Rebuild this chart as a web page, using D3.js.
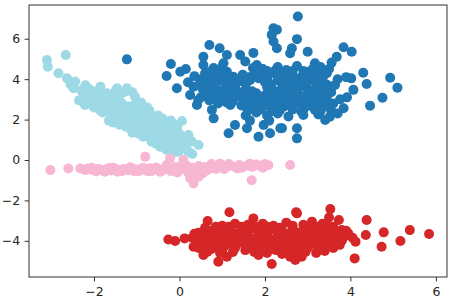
<!DOCTYPE html>
<html>
<head>
<meta charset="utf-8">
<script src="https://cdn.jsdelivr.net/npm/d3@7/dist/d3.min.js"></script>
<style>
  body { margin: 0; background: #fff; }
  text { font-family: "DejaVu Sans", sans-serif; }
</style>
</head>
<body>
<svg id="chart"></svg>
<script>
// Point clouds, [x, y] in data units
const blue = [
  [-1.23,4.98],[2.77,7.10],[2.20,6.52],[2.28,6.45],[2.16,6.19],[2.20,5.86],[2.28,5.53],[2.75,5.98],
  [0.70,5.69],[0.94,5.53],[1.73,5.30],[2.59,5.28],[2.63,5.53],[3.00,5.36],[3.84,5.58],[4.03,5.36],
  [3.68,5.11],[3.56,4.82],[3.17,4.79],[-0.20,4.75],[-0.30,4.16],[0.02,4.37],[-0.06,3.55],[0.56,5.11],
  [0.56,4.70],[0.60,4.29],[1.11,5.20],[1.42,5.20],[1.03,4.79],[1.11,4.37],[1.26,4.12],[1.54,4.87],
  [1.81,4.70],[0.33,3.63],[0.25,3.22],[0.44,2.97],[0.41,2.72],[0.76,2.48],[0.80,2.06],[1.19,2.72],
  [1.30,1.73],[1.15,1.32],[1.58,1.57],[1.85,1.15],[2.12,1.32],[1.97,1.73],[2.40,1.57],[4.30,4.32],
  [4.93,4.07],[5.10,3.58],[4.75,3.08],[4.46,2.69],[4.38,3.76],[4.02,4.04],[4.07,3.47],[3.92,3.10],
  [3.84,2.56],[3.64,3.71],[3.37,3.17],[3.33,3.91],[3.76,3.00],[3.52,2.14],[3.41,1.98],[3.17,2.48],
  [2.92,2.56],[2.90,2.23],[2.75,1.57],[2.75,1.07],[2.36,1.57],[3.02,3.47],[3.02,4.37],[3.13,4.54],
  [0.15,4.50],[0.80,4.55],[1.00,4.60],[1.72,4.55],[1.95,4.50],[2.30,4.60],[2.50,4.45],[2.75,4.65],
  [2.90,4.40],[3.30,4.60],[3.50,4.50],
  [0.35,4.15],[0.50,4.00],[0.90,4.20],[1.48,4.22],[1.75,4.25],[1.95,4.15],[2.15,4.30],[2.40,4.20],
  [2.60,4.25],[2.85,4.10],[3.20,4.20],[3.45,4.30],[3.90,4.10],
  [0.20,3.85],[0.45,3.70],[0.70,3.90],[1.00,3.95],[1.20,3.80],[1.40,3.90],[1.65,3.95],[2.00,3.85],
  [2.30,3.95],[2.55,3.85],[2.75,3.90],[3.05,3.95],[3.30,3.85],
  [0.55,3.50],[0.80,3.60],[1.05,3.50],[1.30,3.60],[1.55,3.45],[2.05,3.60],[2.20,3.45],[2.45,3.60],
  [2.65,3.50],[2.85,3.65],[3.20,3.60],[3.45,3.55],
  [0.60,3.20],[0.85,3.25],[1.10,3.30],[1.35,3.20],[1.60,3.25],[1.80,3.30],[2.00,3.20],[2.30,3.25],
  [2.55,3.30],[2.80,3.20],[3.10,3.25],[3.55,3.35],
  [0.70,2.95],[1.00,3.00],[1.25,2.90],[1.55,3.00],[1.75,2.85],[2.05,2.95],[2.25,2.90],[2.50,3.05],
  [2.70,2.85],[3.00,3.00],[3.25,2.95],[3.60,2.80],
  [1.45,2.70],[1.70,2.55],[2.00,2.70],[2.20,2.55],[2.45,2.65],[2.65,2.50],[3.05,2.70],[3.35,2.60],
  [3.55,2.45],[3.70,2.30],
  [1.55,2.20],[1.80,2.35],[2.05,2.20],[2.30,2.30],[2.55,2.15],[2.10,1.95],[1.65,1.95],[3.25,2.25],
  [0.70,4.35],[1.90,4.35],[2.05,4.40],[2.25,4.45],[2.65,4.40],[3.05,4.20],[3.35,4.45],
  [0.75,4.05],[1.10,4.05],[1.62,4.10],[1.85,4.05],[2.05,4.00],[2.30,4.08],[2.50,4.02],[2.70,4.05],
  [3.05,4.10],[3.35,4.05],[3.70,4.00],
  [0.60,3.75],[0.85,3.75],[1.10,3.70],[1.30,3.75],[1.55,3.75],[2.15,3.75],[2.40,3.75],[2.65,3.70],
  [2.95,3.75],[3.20,3.78],[3.45,3.72],
  [0.70,3.40],[0.95,3.40],[1.20,3.45],[1.45,3.35],[1.70,3.40],[2.10,3.35],[2.35,3.40],[2.55,3.45],
  [2.75,3.38],[3.00,3.35],[3.30,3.40],
  [0.50,3.10],[0.75,3.10],[0.95,3.15],[1.20,3.10],[1.45,3.10],[1.70,3.12],[1.90,3.05],[2.15,3.10],
  [2.40,3.15],[2.65,3.05],[2.95,3.12],[3.20,3.10],[3.45,3.00],
  [0.90,2.80],[1.10,2.85],[1.60,2.80],[1.85,2.75],[2.10,2.80],[2.35,2.78],[2.55,2.82],[2.85,2.75],
  [3.15,2.82],[3.45,2.80],
  [1.60,2.45],[1.90,2.50],[2.15,2.40],[2.35,2.45],[2.85,2.40],[3.30,2.40]
];

const cyan = [
  [-3.10,4.95],[-3.08,4.62],[-2.66,5.20],[-2.83,4.29],[-2.63,4.04],[-2.44,3.88],[-2.48,3.55],
  [-2.21,2.72],[-1.85,3.63],[-1.46,3.55],[-1.23,3.55],[-1.04,3.13],[-2.55,3.75],[-2.20,3.70],
  [-2.30,3.45],[-2.25,3.15],[-2.35,2.95],
  [-2.10,3.50],[-2.05,3.20],[-2.15,2.85],[-2.00,2.60],
  [-1.90,3.45],[-1.85,3.15],[-1.95,2.90],[-1.90,2.55],[-1.80,2.35],
  [-1.70,3.30],[-1.75,3.00],[-1.65,2.75],[-1.70,2.45],[-1.60,2.20],[-1.65,1.95],
  [-1.50,3.40],[-1.45,3.10],[-1.55,2.85],[-1.50,2.60],[-1.45,2.35],[-1.50,2.05],[-1.40,1.75],
  [-1.30,3.35],[-1.35,2.80],[-1.30,2.50],[-1.25,2.25],[-1.30,1.95],[-1.25,1.65],
  [-1.10,3.35],[-1.05,2.75],[-1.15,2.50],[-1.05,2.20],[-1.10,1.90],[-1.00,1.60],[-1.10,1.35],
  [-0.90,2.85],[-0.85,2.55],[-0.95,2.30],[-0.90,2.00],[-0.80,1.75],[-0.90,1.45],[-0.85,1.15],
  [-0.70,2.45],[-0.65,2.20],[-0.75,1.95],[-0.70,1.65],[-0.60,1.40],[-0.70,1.10],[-0.65,0.90],
  [-0.50,2.20],[-0.45,1.95],[-0.55,1.70],[-0.50,1.45],[-0.40,1.20],[-0.50,0.95],[-0.45,0.65],
  [-0.30,1.90],[-0.25,1.60],[-0.35,1.35],[-0.30,1.05],[-0.20,0.80],[-0.30,0.50],
  [-0.10,1.75],[-0.05,1.45],[-0.15,1.20],[-0.10,0.90],[0.00,0.65],[-0.10,0.45],
  [0.06,1.93],[0.21,1.24],[0.29,0.91],[0.09,0.83],[0.21,0.41],[-0.02,0.41],[0.10,1.10],[0.45,0.74],
  [0.30,0.30],
  [-2.00,3.35],[-1.80,2.70],[-1.60,3.20],[-1.40,2.55],[-1.20,2.35],[-1.00,2.45],[-0.80,2.15],
  [-0.60,1.85],[-0.40,1.55],[-0.20,1.30],[-0.60,1.00],[-0.80,1.30],[-1.20,1.80],[-1.00,2.00],
  [-0.40,0.90],[-0.20,0.60],[0.00,1.30],[-0.35,1.80],[-0.75,2.60],[-1.55,1.85],
  [-2.20,3.30],[-2.10,3.00],[-2.20,3.05],[-1.95,3.05],[-2.05,2.75],[-1.85,3.30],[-1.75,2.55],
  [-1.85,2.45],[-1.60,3.05],[-1.65,2.60],[-1.55,2.35],[-1.60,2.90],[-1.40,2.95],[-1.40,2.20],
  [-1.35,1.90],[-1.35,2.40],[-1.20,2.65],[-1.20,2.10],[-1.15,1.55],[-1.00,2.80],[-1.00,2.25],
  [-1.00,1.80],[-0.95,1.30],[-0.80,2.40],[-0.80,1.95],[-0.75,1.50],[-0.75,1.25],[-0.60,2.05],
  [-0.60,1.60],[-0.55,1.20],[-0.55,0.80],[-0.40,2.05],[-0.40,1.35],[-0.35,1.05],[-0.35,0.70],
  [-0.20,1.95],[-0.20,1.50],[-0.20,1.05],[-0.05,1.60],[-0.05,1.05],[0.05,0.55],[0.15,0.95],
  [0.15,0.60],[-0.15,0.35]
];

const pink = [
  [-3.02,-0.50],[-2.60,-0.42],[-2.32,-0.42],[2.59,-0.25],[1.69,-1.00],
  [-2.20,-0.50],[-2.10,-0.45],[-2.00,-0.52],[-1.90,-0.44],[-1.80,-0.50],[-1.70,-0.46],[-1.60,-0.52],
  [-1.50,-0.43],[-1.40,-0.49],[-1.30,-0.45],[-1.20,-0.51],[-1.10,-0.42],[-1.00,-0.48],[-0.90,-0.44],
  [-0.80,-0.50],[-0.70,-0.41],[-0.60,-0.47],[-0.50,-0.43],
  [-2.15,-0.42],[-1.95,-0.56],[-1.65,-0.40],[-1.35,-0.56],[-1.05,-0.55],[-0.75,-0.55],[-0.55,-0.37],
  [-0.85,-0.38],[-1.55,-0.38],
  [-0.40,-0.50],[-0.30,-0.40],[-0.20,-0.55],[-0.10,-0.35],[0.00,-0.50],[0.10,-0.42],[0.20,-0.60],
  [0.30,-0.38],[0.40,-0.55],[0.50,-0.45],[0.60,-0.35],[0.35,-0.75],[0.45,-0.83],[0.33,-1.16],
  [0.25,-0.90],[-0.22,0.08],[0.09,0.00],[-0.80,0.16],[-0.30,-0.25],[0.15,-0.25],[0.55,-0.65],
  [-0.05,-0.62],
  [0.70,-0.42],[0.80,-0.30],[0.90,-0.38],[1.00,-0.28],[1.10,-0.36],[1.20,-0.27],[1.30,-0.35],
  [1.40,-0.25],[1.50,-0.33],[1.60,-0.26],[1.70,-0.34],[1.80,-0.22],[1.90,-0.30],[2.00,-0.20],
  [2.08,-0.26],[0.75,-0.20],[1.05,-0.44],[1.35,-0.42],[1.65,-0.18],[0.95,-0.18],
  [-2.05,-0.38],[-1.75,-0.58],[-1.45,-0.58],[-1.15,-0.36],[-0.95,-0.56],[-0.65,-0.55],[-0.45,-0.58],
  [-0.25,-0.45],[0.05,-0.30],[0.25,-0.50],[0.45,-0.30],[0.65,-0.50],[0.85,-0.45],[1.15,-0.20],
  [1.45,-0.38],[1.75,-0.28],[1.95,-0.38],[0.40,-0.65],[0.30,-0.60]
];

const red = [
  [-0.26,-3.93],[-0.10,-4.01],[0.12,-3.88],[0.43,-3.63],[0.66,-3.02],[1.17,-2.59],[3.53,-2.43],
  [3.73,-2.97],[4.38,-2.97],[4.36,-3.71],[4.12,-4.04],[4.10,-4.87],[4.78,-3.58],[4.73,-4.29],
  [5.17,-4.01],[5.39,-3.47],[5.84,-3.66],[2.73,-2.59],[1.73,-2.89],[0.33,-4.29],[3.80,-3.47],
  [3.95,-3.63],[3.45,-4.29],[1.54,-4.46],[2.75,-2.64],
  [1.00,-3.25],[1.30,-3.15],[1.60,-3.20],[1.95,-3.15],[2.20,-3.25],[2.50,-3.10],[2.90,-3.20],
  [3.10,-3.05],[3.35,-3.15],[3.50,-2.85],[3.60,-3.30],
  [0.45,-3.60],[0.70,-3.50],[0.95,-3.55],[1.20,-3.45],[1.45,-3.50],[1.70,-3.40],[1.90,-3.55],
  [2.15,-3.45],[2.40,-3.50],[2.65,-3.40],[2.85,-3.55],[3.05,-3.45],[3.25,-3.50],[3.45,-3.40],
  [3.65,-3.60],[3.90,-3.50],
  [0.30,-3.85],[0.55,-3.80],[0.80,-3.75],[1.05,-3.85],[1.30,-3.80],[1.55,-3.75],[1.80,-3.85],
  [2.05,-3.80],[2.30,-3.75],[2.55,-3.85],[2.80,-3.80],[3.00,-3.75],[3.20,-3.85],[3.40,-3.80],
  [3.60,-3.90],[3.85,-3.80],[4.05,-3.85],
  [0.40,-4.15],[0.65,-4.10],[0.90,-4.05],[1.15,-4.15],[1.40,-4.10],[1.65,-4.05],[1.90,-4.15],
  [2.15,-4.10],[2.40,-4.05],[2.65,-4.15],[2.90,-4.10],[3.10,-4.05],[3.30,-4.15],[3.55,-4.10],
  [3.75,-4.20],
  [0.45,-4.35],[0.75,-4.40],[1.00,-4.45],[1.30,-4.35],[1.60,-4.35],[2.00,-4.40],[2.25,-4.45],
  [2.50,-4.35],[2.75,-4.45],[3.00,-4.35],[3.25,-4.40],[3.60,-4.35],
  [0.56,-4.70],[1.11,-4.79],[1.85,-4.70],[2.40,-4.65],[2.59,-4.79],[2.86,-4.79],[2.71,-4.95],
  [3.20,-4.60],[0.91,-5.03],[2.16,-5.15],
  [0.60,-3.35],[0.85,-3.30],[1.15,-3.30],[1.45,-3.30],[1.75,-3.25],[2.05,-3.30],[2.35,-3.35],
  [2.65,-3.25],[2.95,-3.35],[3.20,-3.30],[3.45,-3.25],
  [0.35,-3.65],[0.60,-3.65],[0.85,-3.65],[1.10,-3.65],[1.35,-3.65],[1.60,-3.60],[1.85,-3.70],
  [2.05,-3.62],[2.30,-3.62],[2.55,-3.65],[2.75,-3.62],[2.95,-3.65],[3.15,-3.62],[3.35,-3.65],
  [3.55,-3.55],[3.75,-3.72],
  [0.45,-3.95],[0.70,-3.95],[0.95,-3.92],[1.20,-3.98],[1.45,-3.95],[1.70,-3.92],[1.95,-3.98],
  [2.20,-3.95],[2.45,-3.92],[2.70,-3.98],[2.95,-3.92],[3.15,-3.95],[3.35,-3.98],[3.55,-3.95],
  [3.80,-4.00],
  [0.55,-4.25],[0.80,-4.25],[1.05,-4.28],[1.30,-4.22],[1.55,-4.25],[1.80,-4.28],[2.05,-4.25],
  [2.30,-4.22],[2.55,-4.25],[2.80,-4.28],[3.05,-4.22],[3.30,-4.28],[3.55,-4.25],
  [0.65,-4.55],[0.95,-4.60],[1.25,-4.55],[1.75,-4.55],[2.05,-4.60],[2.35,-4.50],[2.65,-4.55],
  [2.95,-4.55],[3.40,-4.50]
];

const xTicks = [-2, 0, 2, 4, 6];
const yTicks = [-4, -2, 0, 2, 4, 6];

const groups = [
  { pts: blue, color: "#1f77b4" },
  { pts: cyan, color: "#9edae5" },
  { pts: pink, color: "#f7b6d2" },
  { pts: red,  color: "#d62728" }
];

const width = 451, height = 305;
const margin = { left: 29, right: 447, top: 5, bottom: 277 };

const svg = d3.select("#chart")
    .attr("width", width)
    .attr("height", height);

const x = d3.scaleLinear().domain([-3.52, 6.26]).range([margin.left, margin.right]);
const y = d3.scaleLinear().domain([-5.79, 7.67]).range([margin.bottom, margin.top]);

// Points
svg.selectAll("g.cluster")
    .data(groups)
    .enter().append("g")
    .attr("class", "cluster")
    .attr("fill", d => d.color)
    .selectAll("circle")
    .data(d => d.pts)
    .enter().append("circle")
    .attr("cx", d => x(d[0]))
    .attr("cy", d => y(d[1]))
    .attr("r", 5);

// Axes
const fmt = d3.format("d");

const xAxis = svg.append("g")
    .attr("transform", `translate(0,${margin.bottom})`)
    .call(d3.axisBottom(x).tickValues(xTicks).tickFormat(fmt).tickSize(4.4).tickPadding(5.5));

const yAxis = svg.append("g")
    .attr("transform", `translate(${margin.left},0)`)
    .call(d3.axisLeft(y).tickValues(yTicks).tickFormat(fmt).tickSize(4.4).tickPadding(4.4));

[xAxis, yAxis].forEach(g => {
  g.select(".domain").remove();
  g.selectAll(".tick line").attr("stroke", "#333");
  g.selectAll(".tick text")
      .attr("fill", "#262626")
      .style("font-size", "12.5px")
      .style("font-family", "'DejaVu Sans', sans-serif");
});

// Frame
svg.append("rect")
    .attr("x", margin.left)
    .attr("y", margin.top)
    .attr("width", margin.right - margin.left)
    .attr("height", margin.bottom - margin.top)
    .attr("fill", "none")
    .attr("stroke", "#333")
    .attr("stroke-width", 1);
</script>
</body>
</html>
